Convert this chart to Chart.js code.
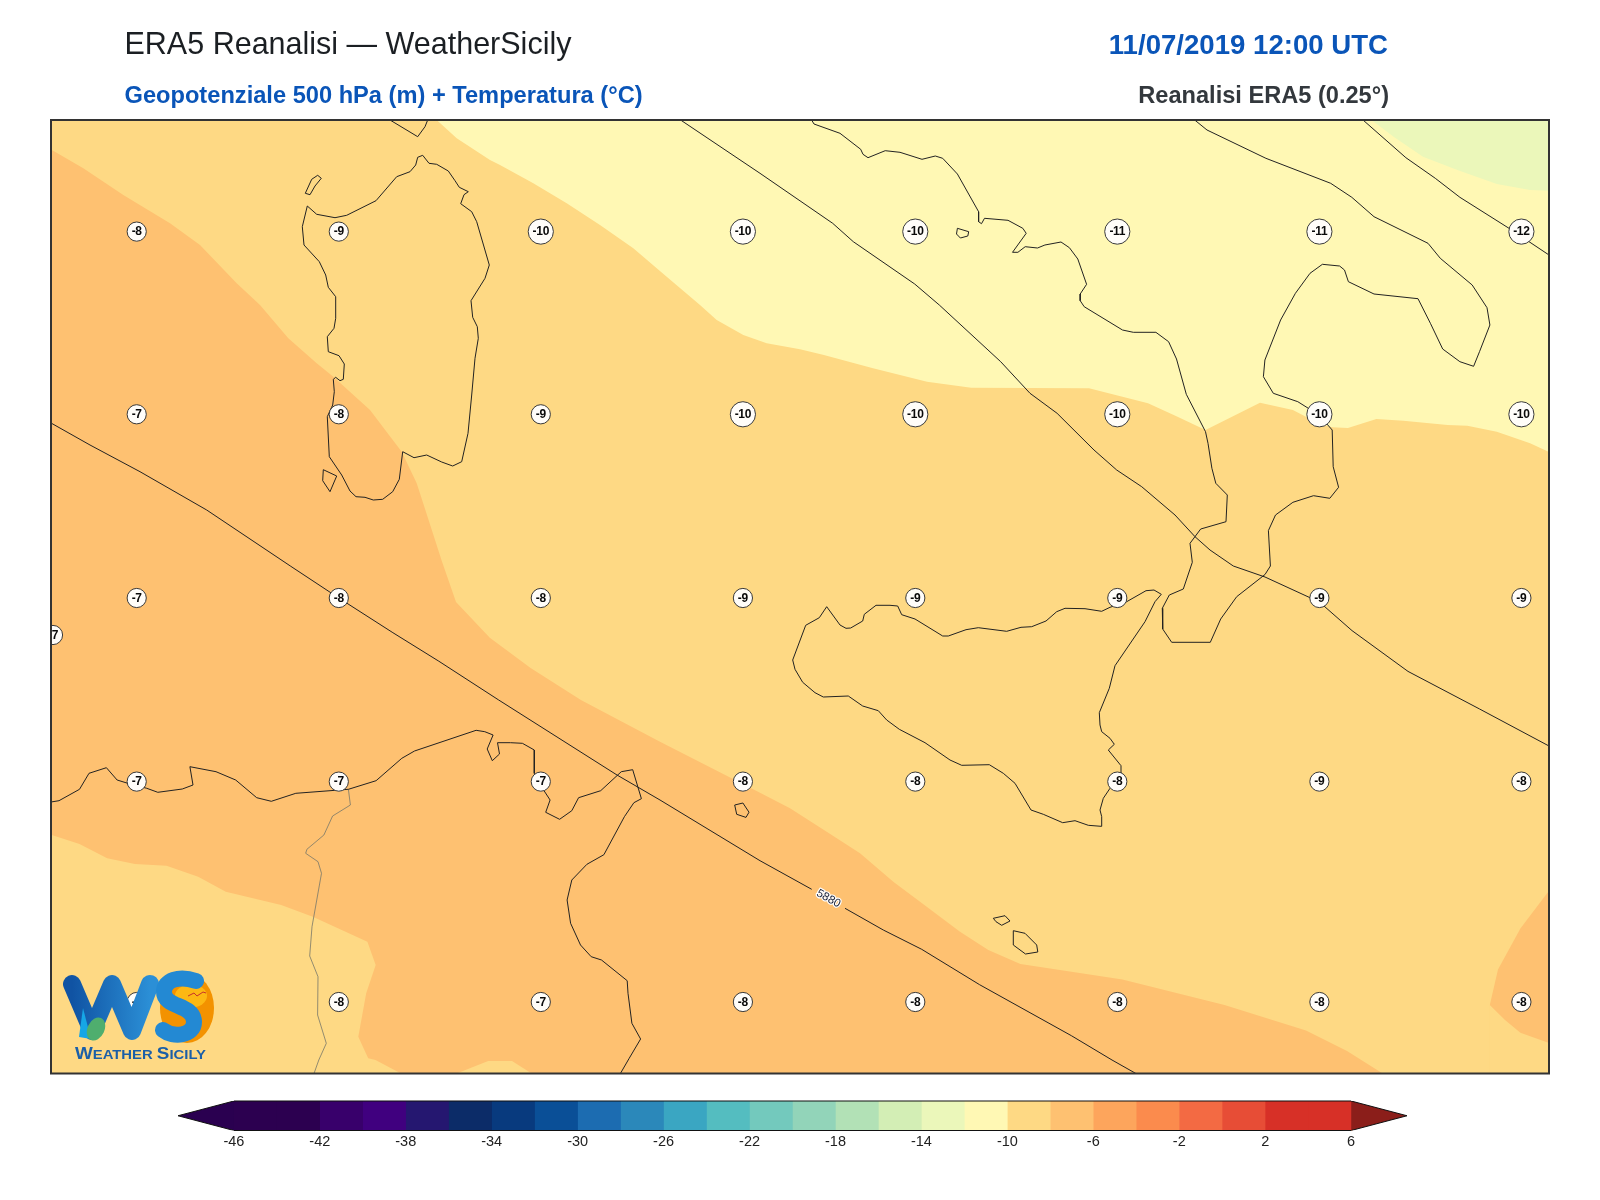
<!DOCTYPE html>
<html><head><meta charset="utf-8">
<title>ERA5 Reanalisi</title>
<script src="https://cdn.jsdelivr.net/npm/chart.js@4"></script>
<style>
html,body{margin:0;padding:0;background:#fff;width:1600px;height:1200px;overflow:hidden}
canvas{position:absolute;left:0}
#map{top:0}#bar{top:1090px}
.t{position:absolute;font-family:"Liberation Sans",Arial,sans-serif;white-space:nowrap;line-height:1.15}
svg{position:absolute;left:0;top:0}
</style></head><body>
<canvas id="map" width="1600" height="1200"></canvas>
<canvas id="bar" width="1600" height="72"></canvas>
<div class="t" style="left:124.5px;top:26px;font-size:30.5px;color:#1b1f23">ERA5 Reanalisi — WeatherSicily</div>
<div class="t" style="left:124.5px;top:81.5px;font-size:23.65px;font-weight:bold;color:#0a55b8">Geopotenziale 500 hPa (m) + Temperatura (°C)</div>
<div class="t" style="right:212px;top:28.5px;font-size:27.6px;font-weight:bold;color:#0a55b8">11/07/2019 12:00 UTC</div>
<div class="t" style="right:211px;top:81.5px;font-size:23.6px;font-weight:bold;color:#33383d">Reanalisi ERA5 (0.25°)</div>
<svg width="1600" height="1200" viewBox="0 0 1600 1200">
<defs><linearGradient id="wg" x1="0" x2="1" y1="0" y2="0"><stop offset="0" stop-color="#1053a3"/><stop offset="1" stop-color="#2b8fd6"/></linearGradient></defs>
<ellipse cx="187" cy="1008" rx="27" ry="35" fill="#f39200"/>
<ellipse cx="191" cy="996" rx="16" ry="11.5" fill="#fdb813"/>
<path d="M72,984 L92,1031 L112,984 L132,1031 L150,984" fill="none" stroke="url(#wg)" stroke-width="18" stroke-linejoin="round" stroke-linecap="round"/>
<path d="M83,1008 L91,1039 L79,1037 Z" fill="#16a6e6"/>
<ellipse cx="96" cy="1029" rx="8.5" ry="12" fill="#4fae6e" transform="rotate(25 96 1029)"/>
<path d="M196,981 C179,975 164,980 164,992 C164,1008 194,1004 194,1022 C194,1036 173,1038 163,1030" fill="none" stroke="#2389d3" stroke-width="16" stroke-linecap="round"/>
<path d="M188,996 L194,993 L197,996 L203,992 L206,993" fill="none" stroke="#c8322a" stroke-width="1"/>
<text x="75" y="1059" textLength="131" lengthAdjust="spacingAndGlyphs" font-family="Liberation Sans" font-weight="bold" font-size="13" fill="#1a5fa8"><tspan font-size="16.5">W</tspan>EATHER <tspan font-size="16.5">S</tspan>ICILY</text>
</svg>
<script>
// ---- map domain, digitised map grid units ----
const xRange = [51, 1549];
const yRange = [120, 1073.5];

// ---- temperature station grid (°C) ----
const gridX = [136.7, 338.8, 540.8, 742.9, 915.3, 1117.3, 1319.4, 1521.4];
const gridY = [231.6, 414.3, 598, 781.6, 1002];
const tempsRow1 = [-8, -9, -10, -10, -10, -11, -11, -12];
const tempsRow2 = [-7, -8, -9, -10, -10, -10, -10, -10];
const tempsRow3 = [-7, -8, -8, -9, -9, -9, -9, -9];
const tempsRow4 = [-7, -7, -7, -8, -8, -8, -9, -8];
const tempsRow5 = [-8, -8, -7, -8, -8, -8, -8, -8];
const extraStation = [[53, 635, -7]];

// ---- temperature isotherm edges ----
const edgeTop = [[51,120],[1549,120]];
const isoMinus10 = [[436.7,120],[456.7,138.3],[490,160],[500,165],[533.3,183.3],[566.7,203.3],[600,225],[633.3,248.3],[666.7,276.7],[700,305],[716.7,320],[743.3,335],[766.7,343.3],[800,349.3],[823.9,355],[873,368.3],[927,381.7],[971.2,387.7],[1089,388.3],[1148,403.3],[1177.5,416.7],[1205.5,430],[1260,402.7],[1292.9,410],[1318.4,423.3],[1332.2,427.3],[1347.9,428],[1376.4,419],[1403.4,420.7],[1447.6,425],[1467.3,425.7],[1496.8,431.7],[1530.1,443.3],[1549,452]];
const isoMinus12 = [[1371.5,120],[1393.6,136.7],[1423,156.7],[1457.4,170],[1496.8,184],[1530,190],[1549,190.8]];
const isoMinus8 = [[50,148.8],[83.3,168.3],[123.3,195],[170,223.3],[200,245],[236.7,283.3],[260,305],[288.3,338.3],[316.7,363.3],[333.3,376.7],[370,410],[401.7,451.7],[416.7,483.3],[428.6,520],[441.8,561],[456,602],[489.8,637.8],[530.6,668],[580.9,700],[660,741.7],[760,792.7],[790,808.3],[826.7,831.7],[860,853.3],[893.3,881.7],[926.7,906.7],[960,931.7],[988.3,950],[1020.4,964],[1122.4,979.6],[1224.5,1005],[1306,1030.6],[1347,1051],[1382.7,1073.5]];
const isoSouthWest = [[50,834.5],[79.5,844],[107.2,858.3],[134.9,864],[166.5,865.7],[198.2,876.7],[225.8,891.7],[281.2,905],[312.8,916.7],[367.4,941.7],[375.7,965],[366.2,993.3],[358.3,1036.7],[368.2,1058.3],[375.5,1060],[401,1073.5]];
const isoSouthPatch = [[456.6,1073.5],[488.2,1061],[512,1061],[531.7,1073.5]];
const isoEastUpper = [[1489.8,1005],[1498,969.4],[1520.4,928.6],[1549,890.8]];
const isoEastLower = [[1489.8,1005],[1505,1020],[1520.4,1032.7],[1549,1043]];

// ---- geopotential contours ----
const z5880West = [[51,423],[90,445],[140,471.7],[206.7,510],[290.8,566.3],[338.8,598],[392.9,632.7],[438.8,661.2],[498.7,700],[617,775],[660,800],[760,860.7],[811.7,889.3]];
const z5880East = [[845,908.3],[883.3,930],[921.7,949.3],[979.6,984.7],[1071.4,1035.7],[1112,1060],[1135.9,1073.5]];
const z5880Label = [828.5, 898.7];
const zMiddle = [[680.6,120],[760,173.3],[832.7,223.3],[853.3,241.7],[914.7,284],[939.3,305],[1000.7,361.7],[1030,393.3],[1057.1,413.3],[1094,450],[1116.7,470],[1141.7,486.7],[1175,515],[1195,536.7],[1210,550],[1233.3,566],[1265,577],[1319.4,602],[1352,630.6],[1408,671.4],[1479.6,709],[1549,746]];
const zNorthEast = [[1363,120],[1405.9,157.7],[1435.3,178.3],[1459.9,197.3],[1509,228.3],[1549,255]];

// ---- coastlines ----
const sardinia = [[422.7,155.3],[429,163.3],[436.7,164.3],[448.3,171],[455,180.7],[459.3,187.3],[468.3,191.7],[464,194.7],[460.7,203.7],[471.7,211.7],[476.7,221.7],[489.3,265],[485,278.3],[471,300.7],[472.7,317.3],[477.3,326.7],[478.3,338.3],[475,358.3],[471.7,395],[468,433.3],[461.7,461.7],[452.7,466],[441.7,462],[426.7,455],[414,457.7],[402.7,451.7],[399.3,479.3],[392.7,491.7],[382.7,499.3],[373.3,500],[365,497.3],[356,496.7],[350,491],[341.7,475],[329.3,456.7],[327.3,416.7],[332.7,405],[334.3,391.7],[333.3,379.3],[335.7,377.3],[340,380.7],[343.3,379.3],[344.3,364],[339,355.7],[328.3,351.7],[327.3,336.7],[334,328.3],[335.7,318.3],[335.7,296.7],[328.3,287.3],[325.7,275],[319.3,261.7],[304,245],[302.3,226.7],[307.3,206],[316.7,214.3],[335,217.7],[346.7,215.3],[376,200.7],[396.7,176.7],[410,171.7],[415.7,165],[417.7,157.3],[422.7,155.3]];
const asinara = [[305.3,193.3],[311.7,179.3],[317.7,175.3],[321.3,178.3],[315,186],[310,194.7],[305.3,193.3]];
const santAntioco = [[323.3,469.7],[336.7,476],[330,491.7],[322.7,480.7],[323.3,469.7]];
const corsicaTip = [[390,120],[417.7,136.7],[425,126.7],[427.7,120]];
const italyTyrrhenian = [[811.6,120],[814,124],[840,133.3],[860.7,149.3],[863,154.3],[868,157.7],[885.2,150.7],[900,152.3],[922,159.3],[935.3,156],[942.7,158.3],[957.4,174],[978.6,211.7],[978.6,221.7],[981.5,223.7],[984.5,218.3],[1008,220.3],[1022.8,228.3],[1026.2,233.3],[1012.5,252.3],[1017.9,252.3],[1025.2,246.7],[1037.5,248],[1044.9,245],[1061,242],[1069.4,247.7],[1077.8,259],[1086.6,284.3],[1080.2,294],[1080.2,300.7],[1084.2,306.7],[1122.5,330],[1133.3,332.3],[1155.9,332.3],[1168.6,341.7],[1176.5,359],[1186.3,394.3],[1205.5,431.7],[1208,443.3],[1211.9,468.3],[1215.8,483.3],[1227.3,495],[1226,521.7],[1200.7,529],[1190,543.3],[1192.3,562.3],[1183.3,589],[1169.3,595],[1162.3,608.3],[1162.7,629],[1171.7,642.3],[1210.3,642.3],[1220.7,619],[1236.7,596.7],[1265,574.5],[1270.4,566],[1268.4,530.6],[1275.5,515],[1292.9,502.3],[1313.5,495.7],[1329.8,498.3],[1338.6,487.3],[1333.2,466.7],[1332.2,430],[1319,415],[1297.8,401.7],[1273.3,393.3],[1263.4,376.7],[1264.9,360],[1280.6,320],[1295.4,293.3],[1310,273.3],[1322.4,264.3],[1339.6,266],[1344.5,270],[1348.4,281.7],[1374,294],[1418,298.7],[1430.4,323.3],[1442.7,349],[1459.9,361.7],[1473.6,366.3],[1479.5,351.7],[1489.9,325],[1487,307.7],[1472.2,285],[1440.3,258.3],[1428,243.3],[1374,216.7],[1351.8,197.3],[1330.7,183.3],[1265.9,158.3],[1207,130],[1194.7,120]];
const ponza = [[957.4,228.3],[968.7,231.7],[967.8,236],[960.4,238],[956.5,234],[957.4,228.3]];
const sicily = [[1161.3,594.3],[1154,590],[1146,590.7],[1126.7,601.7],[1110,607.3],[1101.7,611.3],[1085,608.7],[1065,608.3],[1056.7,611.7],[1046,621],[1031.7,626.7],[1021,627.3],[1006.7,631.3],[978.3,627.7],[966,629.7],[948.3,636],[942.7,636],[915,619],[901.7,614.7],[897.7,606],[890,605.3],[876,605.3],[864.3,614.3],[862.7,621],[850.7,628],[846,628.3],[840,625],[826.7,606.7],[819.3,617.7],[805.7,625.3],[792.7,660],[795,669.3],[802.7,682.3],[815,692.7],[823.3,697],[848.3,696],[862.7,706],[878.3,710.7],[886.7,720],[899.3,729.3],[925,742.7],[950,760],[961.7,765.3],[989.3,764.7],[1003.3,773.3],[1015,783.3],[1031,810],[1043.3,814.3],[1062.7,822.7],[1075,820.7],[1088.3,825.3],[1101,826.3],[1101.7,816.7],[1100,810],[1103.3,798.3],[1110,788.3],[1121.7,773.3],[1121,765.7],[1108.3,750],[1114.3,744.3],[1110,738.3],[1101.7,731.7],[1100,725],[1099.3,712.7],[1109.3,688.3],[1115,665.7],[1145,621.7],[1155,601.7],[1161.3,594.3]];
const pantelleria = [[734.7,805],[742.9,803],[749,812.2],[746,817.4],[736.7,814.3],[734.7,805]];
const gozo = [[993.3,918.3],[1005,915.7],[1010,921],[1001.7,925.3],[996,921.7],[993.3,918.3]];
const malta = [[1013.3,930.7],[1025,933.3],[1036.7,945],[1037.8,952],[1025.5,954],[1013.3,945],[1013.3,930.7]];
const northAfrica = [[51,802],[59,800.7],[79.5,789.3],[89,773.3],[106.4,767.7],[117.1,780],[127.8,783.3],[146.8,788.3],[157.8,792.3],[182.3,789],[193,785],[189.9,766.7],[216,771.7],[235.7,780],[256.7,797.7],[271.3,801.3],[295.8,793.3],[348.4,789.3],[376.1,780.7],[401.8,758.3],[414.5,751],[476.1,730.3],[484.8,731.7],[493.1,735],[487.2,749],[492.3,760.7],[499.5,754],[497.5,742.7],[510.5,742.7],[522.4,743.3],[534.3,750],[534.3,773.3],[541.4,786.7],[550.1,800],[545.7,812.3],[559.6,819.3],[571.8,810.7],[578.6,797.7],[600.7,790.7],[621.3,771.7],[632.7,769.7],[641.4,798.7],[633.9,802.7],[624.4,816.7],[603.9,854.7],[586.9,864.3],[571.8,880],[567.1,900],[570.6,923.3],[580.5,945],[591.2,956.7],[601.5,960],[627.2,980.7],[628,993.3],[631.9,1023.3],[640.6,1039],[629.2,1058.3],[620.4,1073.5]];
const algeriaTunisiaBorder = [[348.4,789.3],[350.4,805],[332.6,816],[323.9,835],[306.9,849.3],[305.7,853.3],[318,861.7],[321.5,873.3],[312,926.7],[309.7,956],[318,976.7],[317.6,1015],[326.3,1043.3],[318.8,1060],[314,1073.5]];

// ---- colourbar ----
const cbTicks = [-46,-42,-38,-34,-30,-26,-22,-18,-14,-10,-6,-2,2,6];
const cbLevels = [-46,-44,-42,-40,-38,-36,-34,-32,-30,-28,-26,-24,-22,-20,-18,-16,-14,-12,-10,-8,-6,-4,-2,0,2,4,6];
const cbColors = ['#2c0050','#2c0050','#38006b','#40007f','#251770','#0c2c68','#083a7e','#0a4f97','#1c6cb1','#2b88ba','#3aa6c2','#54bdc0','#73c9bd','#92d4b9','#b2e1b6','#d3eeb5','#ebf7ba','#fff8b4','#fed984','#fec171','#fda55c','#fb8b4d','#f36a43','#e74d36','#d73027','#d73027'];
const cbLowTip = -48.6, cbHighTip = 8.6;

const C_PALE='#ebf7ba', C_YEL='#fff8b4', C_LIGHT='#fed984', C_OR='#fec171';
const pts = a => a.map(p => ({x:p[0], y:p[1]}));
function fillLayer(arr,color,target){return {type:'line',data:pts(arr),fill:target,backgroundColor:color,borderWidth:0,pointRadius:0,tension:0,clip:0};}
function stroke(arr,color,w){return {type:'line',data:pts(arr),fill:false,borderColor:color,borderWidth:w,pointRadius:0,tension:0,clip:0,borderJoinStyle:'round'};}

const stationPts = [];
[tempsRow1,tempsRow2,tempsRow3,tempsRow4,tempsRow5].forEach((row,j)=>row.forEach((v,i)=>stationPts.push({x:gridX[i],y:gridY[j],v})));
extraStation.forEach(s=>stationPts.push({x:s[0],y:s[1],v:s[2]}));

const layers = [
 fillLayer(edgeTop,C_LIGHT,'start'),
 fillLayer(isoMinus8,C_OR,'start'),
 fillLayer(isoSouthWest,C_LIGHT,'start'),
 fillLayer(isoSouthPatch,C_LIGHT,'start'),
 fillLayer(isoEastUpper,C_OR,'start'),
 fillLayer(isoEastLower,C_LIGHT,'start'),
 fillLayer(isoMinus10,C_YEL,'end'),
 fillLayer(isoMinus12,C_PALE,'end'),
 stroke(algeriaTunisiaBorder,'#77776a',0.8),
 ...[sardinia,asinara,santAntioco,corsicaTip,italyTyrrhenian,ponza,sicily,pantelleria,gozo,malta,northAfrica].map(c=>stroke(c,'#222',1)),
 ...[z5880West,z5880East,zMiddle,zNorthEast].map(c=>stroke(c,'#222',1)),
 {type:'scatter',data:stationPts,pointStyle:'circle',
  pointRadius:c=>{const v=c.raw&&c.raw.v;return String(v).length>2?12.6:9.6;},
  pointBackgroundColor:'#fffdf9',pointBorderColor:'#3a3a3a',pointBorderWidth:1,clip:0}
];
layers.forEach((d,i)=>{d.order=layers.length-i;});

const mapText = {
 id:'mapText',
 afterDatasetsDraw(chart){
  const {ctx,chartArea:a,scales:{x,y}}=chart;
  ctx.save();
  ctx.beginPath();ctx.rect(a.left,a.top,a.width,a.height);ctx.clip();
  ctx.textAlign='center';ctx.textBaseline='middle';
  ctx.font='bold 12px "Liberation Sans"';ctx.fillStyle='#0a0a0a';
  if('letterSpacing' in ctx)ctx.letterSpacing='-0.3px';
  stationPts.forEach(p=>ctx.fillText(String(p.v),x.getPixelForValue(p.x),y.getPixelForValue(p.y)+0.5));
  if('letterSpacing' in ctx)ctx.letterSpacing='0px';
  ctx.translate(x.getPixelForValue(z5880Label[0]),y.getPixelForValue(z5880Label[1]));
  ctx.rotate(29*Math.PI/180);
  ctx.font='11.5px "Liberation Sans"';
  ctx.lineWidth=2.4;ctx.strokeStyle='#fff';ctx.lineJoin='round';ctx.strokeText('5880',0,0);
  ctx.fillStyle='#1c2236';ctx.fillText('5880',0,0);
  ctx.restore();
 },
 afterDraw(chart){
  const {ctx,chartArea:a}=chart;
  ctx.save();ctx.strokeStyle='#333';ctx.lineWidth=2;ctx.strokeRect(a.left,a.top,a.width,a.height);ctx.restore();
 }
};

new Chart(document.getElementById('map'),{
 data:{datasets:layers},
 plugins:[mapText],
 options:{responsive:false,animation:false,devicePixelRatio:1,
  layout:{padding:{left:xRange[0],right:1600-xRange[1],top:yRange[0],bottom:1200-yRange[1]}},
  plugins:{legend:{display:false},tooltip:{enabled:false},title:{display:false}},
  events:[],
  scales:{
   x:{type:'linear',display:false,min:xRange[0],max:xRange[1]},
   y:{type:'linear',display:false,min:yRange[0],max:yRange[1],reverse:true}
  }}
});

const first=cbLevels[0],last=cbLevels[cbLevels.length-1];
const seam=0.06; // bands tuck slightly under the arrow heads so no light seam shows
const barSets=[];
cbColors.forEach((c,i)=>barSets.push({type:'line',data:[{x:i===0?first-seam:cbLevels[i],y:1},{x:last+seam,y:1}],fill:'start',backgroundColor:c,borderWidth:0,pointRadius:0,clip:0,order:100-i}));
const base=barSets.length;
barSets.push({type:'line',data:[{x:cbLowTip,y:.5},{x:first,y:1}],fill:base+1,backgroundColor:'#2a0050',borderColor:'#111',borderWidth:1,pointRadius:0,order:5});
barSets.push({type:'line',data:[{x:cbLowTip,y:.5},{x:first,y:0}],fill:false,borderColor:'#111',borderWidth:1,pointRadius:0,order:4});
barSets.push({type:'line',data:[{x:last,y:1},{x:cbHighTip,y:.5}],fill:base+3,backgroundColor:'#8b1e1a',borderColor:'#111',borderWidth:1,pointRadius:0,order:3});
barSets.push({type:'line',data:[{x:last,y:0},{x:cbHighTip,y:.5}],fill:false,borderColor:'#111',borderWidth:1,pointRadius:0,order:2});
barSets.push({type:'line',data:[{x:first,y:0},{x:last,y:0}],fill:false,borderColor:'#111',borderWidth:1.2,pointRadius:0,clip:false,order:1});
barSets.push({type:'line',data:[{x:first,y:1},{x:last,y:1}],fill:false,borderColor:'#111',borderWidth:1.2,pointRadius:0,clip:false,order:0});

new Chart(document.getElementById('bar'),{
 data:{datasets:barSets},
 options:{responsive:false,animation:false,devicePixelRatio:1,events:[],
  layout:{padding:{left:178,right:193,top:11,bottom:0}},
  plugins:{legend:{display:false},tooltip:{enabled:false}},
  scales:{
   x:{type:'linear',min:cbLowTip,max:cbHighTip,border:{display:false},grid:{display:false,drawTicks:false},
      afterBuildTicks:s=>{s.ticks=cbTicks.map(v=>({value:v}));},
      afterFit:s=>{s.height=31.5;},
      ticks:{autoSkip:false,maxRotation:0,padding:3,color:'#222',font:{family:'Liberation Sans',size:14.5},callback:v=>String(v)}},
   y:{type:'linear',display:false,min:0,max:1}
  }}
});
</script>
</body></html>
